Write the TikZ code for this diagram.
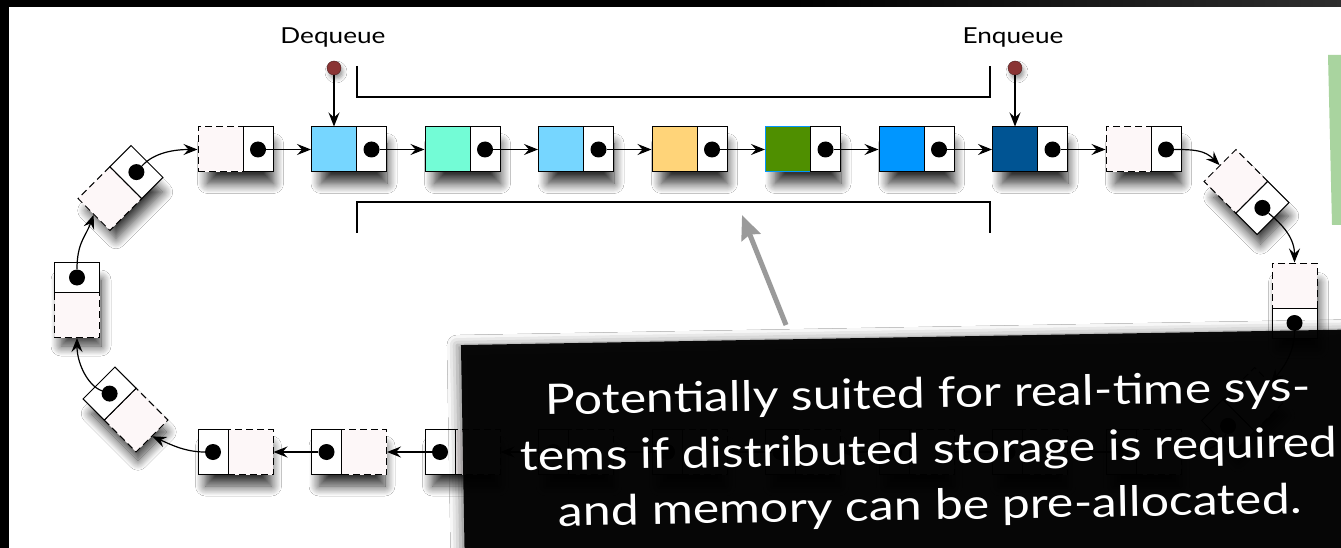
\documentclass[tikz,border=0pt]{standalone}
\usepackage{fontspec}
\newfontfamily\slidefont[FakeStretch=1.19]{Lato}
\usepackage{tikz}
\usetikzlibrary{arrows.meta,positioning,shadows.blur}

\definecolor{cellblue}{HTML}{76D6FF}
\definecolor{cellaqua}{HTML}{73FCD6}
\definecolor{cellorange}{HTML}{FFD479}
\definecolor{cellgreen}{HTML}{4F8F00}
\definecolor{cellsky}{HTML}{0096FF}
\definecolor{cellnavy}{HTML}{005493}
\definecolor{blush}{HTML}{FDF7F8}
\definecolor{pinred}{HTML}{8A3434}
\definecolor{notegreen}{HTML}{A9D49F}
\definecolor{hintgray}{HTML}{9A9A9A}

\tikzset{
  cellshadow/.style={fill=white, minimum width=66pt, minimum height=40pt, inner sep=0pt,
    blur shadow={shadow xshift=4pt, shadow yshift=-14pt, shadow blur radius=10pt,
      shadow blur steps=12, shadow opacity=80}},
  datbox/.style={draw, line width=1pt, minimum width=45pt, minimum height=45pt, inner sep=0pt},
  freebox/.style={datbox, fill=blush, dash pattern=on 7pt off 4pt},
  ptrbox/.style={draw, line width=1pt, fill=white, minimum width=30pt, minimum height=45pt, inner sep=0pt},
  ptrdot/.style={circle, fill=black, minimum size=16pt, inner sep=0pt},
  pindot/.style={circle, draw=pinred!55!black, fill=pinred, minimum size=14pt, inner sep=0pt,
    blur shadow={shadow xshift=2pt, shadow yshift=-4pt, shadow blur radius=4pt}},
  qlabel/.style={font=\slidefont\fontsize{22}{26}\selectfont},
  link/.style={line width=1.2pt, -{Stealth[length=14pt,width=11pt,inset=5pt]}},
  bracket/.style={line width=2pt},
  hint/.style={line width=5pt, draw=hintgray, -{Stealth[length=24pt,width=20pt,inset=3pt]}},
  notebox/.style={fill=black, fill opacity=.95, minimum width=920pt, minimum height=240pt, rotate=1,
    blur shadow={shadow xshift=-4pt, shadow yshift=0pt, shadow blur radius=10pt, shadow opacity=50}},
  notetext/.style={text=white, align=center, rotate=1, font=\slidefont\fontsize{42}{56}\selectfont}
}

% one list cell: name, centre, angle, options of the data box
\newcommand{\qcell}[4]{%
  \begin{scope}[shift={#2}, rotate=#3, transform shape]
    \node[cellshadow] (s#1) at (1,0) {};
    \node[#4] (d#1) at (-15,0) {};
    \node[ptrbox] (p#1) at (22.5,0) {};
    \node[ptrdot] (t#1) at (p#1.center) {};
  \end{scope}}

\begin{document}
\begin{tikzpicture}[x=1pt, y=-1pt]
  \useasboundingbox (0,0) rectangle (1341,548);
  \fill[black] (0,0) rectangle (1341,548);
  \fill[white] (9,7) rectangle (1341,548);
  \shade[left color=black, right color=black!82] (795,0) rectangle (1341,7);
  \fill[notegreen] (1328,55) -- (1341,55) -- (1341,225) -- (1332,225) -- cycle;

  % upper row
  \qcell{1}{(235.5,149.5)}{0}{freebox}
  \qcell{2}{(349,149.5)}{0}{datbox, fill=cellblue}
  \qcell{3}{(462.5,149.5)}{0}{datbox, fill=cellaqua}
  \qcell{4}{(576,149.5)}{0}{datbox, fill=cellblue}
  \qcell{5}{(689.5,149.5)}{0}{datbox, fill=cellorange}
  \qcell{6}{(803,149.5)}{0}{datbox, fill=cellgreen, draw=cellsky}
  \qcell{7}{(916.5,149.5)}{0}{datbox, fill=cellsky}
  \qcell{8}{(1030,149.5)}{0}{datbox, fill=cellnavy}
  \qcell{9}{(1143.5,149.5)}{0}{freebox}

  % turns of the ring
  \qcell{LT}{(120.5,188)}{45}{freebox}
  \qcell{LV}{(77,300)}{90}{freebox}
  \qcell{LB}{(125.5,409.5)}{135}{freebox}
  \qcell{RT}{(1246.5,192)}{-45}{freebox}
  \qcell{RV}{(1294.5,300.5)}{-90}{freebox}
  \qcell{RB}{(1244,410)}{-135}{freebox}

  % lower row
  \foreach \i in {1,...,9}{
    \qcell{b\i}{({235.5+113.5*(\i-1)},452)}{180}{freebox}
  }

  \foreach \i [count=\j from 2] in {1,...,8}
    \draw[link] (t\i) -- (d\j);
  \foreach \i [count=\j from 2] in {1,...,8}
    \draw[link] (tb\j) -- (db\i);

  \draw[link] (tLT) .. controls +(18,-20) and +(-22,0) .. (d1.west);
  \draw[link] (tLV) .. controls +(0,-35) and +(-8,22) .. (dLT.west);
  \draw[link] (tLB) .. controls +(-22,-8) and +(0,25) .. (dLV.west);
  \draw[link] (tb1) .. controls +(-28,0) and +(18,8) .. (dLB.west);
  \draw[link] (t9) .. controls +(28,0) and +(-15,-15) .. (dRT.west);
  \draw[link] (tRT) .. controls +(14,12) and +(0,-28) .. (dRV.west);
  \draw[link] (tRV) .. controls +(0,30) and +(12,-15) .. (dRB.west);
  \draw[link] (tRB) .. controls +(-5,20) and +(22,0) .. (db9.west);

  % head and tail
  \node[qlabel] (deq) at (333,38) {Dequeue};
  \node[qlabel] (enq) at (1013,38) {Enqueue};
  \node[pindot] (deqpin) at (334,68) {};
  \node[pindot] (enqpin) at (1015,68) {};
  \draw[link] (deqpin) -- (d2);
  \draw[link] (enqpin) -- (d8);

  \draw[bracket] (357,66) -- (357,97) -- (990,97) -- (990,66);
  \draw[bracket] (357,233) -- (357,202) -- (990,202) -- (990,233);

  \coordinate (hinttail) at (786,325);
  \coordinate (hinttip) at (742,215);
  \draw[hint] (hinttail) -- (hinttip);

  \node[notebox] (note) at (923,457) {};
  \node[notetext] (notetxt) at (929,452) {Potentially suited for real-time sys-\\
    tems if distributed storage is required\\
    and memory can be pre-allocated.};
\end{tikzpicture}
\end{document}
